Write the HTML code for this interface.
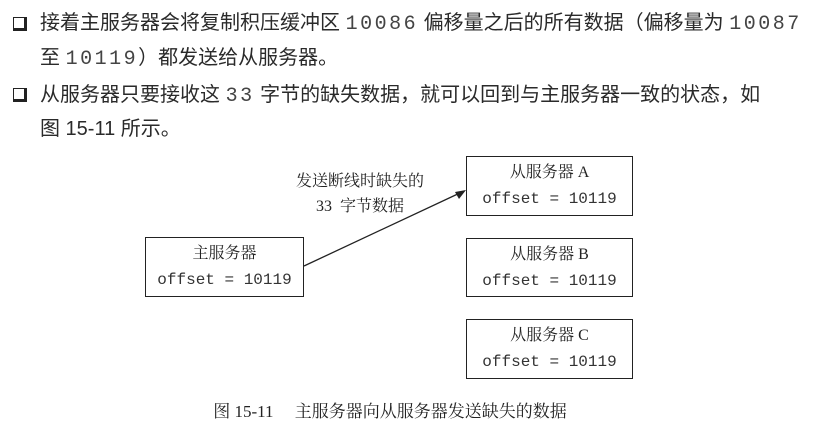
<!DOCTYPE html>
<html><head><meta charset="utf-8"><style>
body{margin:0;width:820px;height:436px;background:#fff;position:relative;overflow:hidden;font-family:"Liberation Serif","Noto Serif CJK SC",serif;color:#222}
.t{position:absolute;font-size:20px;line-height:24px;white-space:nowrap;left:40px;font-family:"Liberation Sans","Noto Sans CJK SC",sans-serif;color:#2a2a2a}
.t .m{font-family:"Liberation Mono",monospace;font-size:20px;letter-spacing:2.5px;color:#444}
.cb{position:absolute;left:13px;width:10px;height:10px;border:1.5px solid #222;border-right-width:3px;border-bottom-width:3px}
.box{position:absolute;border:1.5px solid #222;box-sizing:border-box;text-align:center;font-size:16px;line-height:26px;padding-top:3px}
.box .m{font-family:"Liberation Mono",monospace;font-size:16px;color:#333}
</style></head><body>
<div class="cb" style="top:17px"></div>
<div class="t" style="top:11px">接着主服务器会将复制积压缓冲区 <span class="m">10086</span> 偏移量之后的所有数据（偏移量为 <span class="m">10087</span></div>
<div class="t" style="top:46px">至 <span class="m">10119</span>）都发送给从服务器。</div>
<div class="cb" style="top:88px"></div>
<div class="t" style="top:83px">从服务器只要接收这 <span class="m">33</span> 字节的缺失数据，就可以回到与主服务器一致的状态，如</div>
<div class="t" style="top:117px">图 15-11 所示。</div>
<div class="box" style="left:145px;top:237px;width:159px;height:60px">主服务器<br><span class="m">offset = 10119</span></div>
<div class="box" style="left:466px;top:156px;width:167px;height:60px">从服务器 A<br><span class="m">offset = 10119</span></div>
<div class="box" style="left:466px;top:238px;width:167px;height:59px">从服务器 B<br><span class="m">offset = 10119</span></div>
<div class="box" style="left:466px;top:319px;width:167px;height:60px">从服务器 C<br><span class="m">offset = 10119</span></div>
<div style="position:absolute;left:280px;top:169px;width:160px;text-align:center;font-size:16px;line-height:25px">发送断线时缺失的<br>33&nbsp; 字节数据</div>
<svg width="820" height="436" style="position:absolute;left:0;top:0">
<line x1="304" y1="266" x2="462" y2="192" stroke="#222" stroke-width="1.3"/>
<polygon points="466,190 455,192 459,199" fill="#222"/>
</svg>
<div style="position:absolute;left:0;width:780px;top:397px;text-align:center;font-size:17px">图 15-11　 主服务器向从服务器发送缺失的数据</div>
</body></html>
